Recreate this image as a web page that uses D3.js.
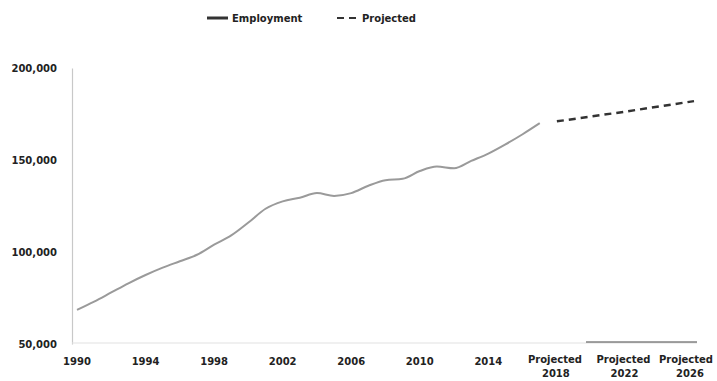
<!DOCTYPE html>
<html>
<head>
<meta charset="utf-8">
<script src="https://cdn.jsdelivr.net/npm/d3@7"></script>
<style>
  body { margin: 0; background: #fff; }
  svg text { font-family: "DejaVu Sans", sans-serif; font-weight: bold; font-size: 10px; fill: #222; }
</style>
</head>
<body>
<div id="chart"></div>
<script>
// employment, annual
const years = [1990, 1991, 1992, 1993, 1994, 1995, 1996, 1997, 1998, 1999,
               2000, 2001, 2002, 2003, 2004, 2005, 2006, 2007, 2008, 2009,
               2010, 2011, 2012, 2013, 2014, 2015, 2016, 2017];
const employment = [68500, 73000, 78000, 83000, 87500, 91500, 95000, 98500, 104000, 109000,
                    116000, 123500, 127500, 129500, 132000, 130500, 132000, 136000, 139000, 139800,
                    144000, 146400, 145500, 149500, 153500, 158500, 164000, 170000];

// projections
const projYears = [2018, 2022, 2026];
const projected = [171000, 176300, 182000];

// axis ticks
const tickYears = [1990, 1994, 1998, 2002, 2006, 2010, 2014, 2018, 2022, 2026];
const tickLabels = ['1990', '1994', '1998', '2002', '2006', '2010', '2014',
                    'Projected 2018', 'Projected 2022', 'Projected 2026'];
const yTicks = [50000, 100000, 150000, 200000];

const W = 717, H = 381;
const svg = d3.select('#chart').append('svg').attr('width', W).attr('height', H);

const x = d3.scaleLinear().domain([1990, 2026]).range([77, 694]);
const y = d3.scaleLinear().domain([50000, 200000]).range([344, 68]);

// y axis
const yAxis = svg.append('g')
    .attr('transform', 'translate(72,0)')
    .call(d3.axisLeft(y).tickValues(yTicks).tickSize(0).tickPadding(15).tickFormat(d3.format(',')));
yAxis.select('.domain').attr('stroke', '#c8c8c8').attr('stroke-width', 1.2);
yAxis.selectAll('text').style('font-size', '10px');

// x baseline
svg.append('line')
    .attr('x1', 72).attr('x2', x(2026) + 3)
    .attr('y1', 343).attr('y2', 343)
    .attr('stroke', '#e2e2e2').attr('stroke-width', 1.2);
svg.append('line')
    .attr('x1', x(2019.7)).attr('x2', x(2026) + 3)
    .attr('y1', 342).attr('y2', 342)
    .attr('stroke', '#444').attr('stroke-width', 1);

// x labels (last one pulled in so it stays inside the frame)
const xl = svg.append('g').selectAll('text')
    .data(tickYears)
    .enter()
    .append('text')
    .attr('text-anchor', 'middle');
xl.each(function(d, i) {
    const parts = tickLabels[i].split(' ');
    const t = d3.select(this);
    const shift = i === tickYears.length - 1 ? -6 : 0;
    if (parts.length === 1) {
        t.append('tspan').attr('x', x(d)).attr('y', 365).text(parts[0]);
    } else {
        t.append('tspan').attr('x', x(d) - 2 + shift).attr('y', 363).text(parts[0]);
        t.append('tspan').attr('x', x(d) - 1 + shift / 2).attr('y', 377).text(parts[1]);
    }
});

// lines
const line = d3.line().x(d => x(d[0])).y(d => y(d[1])).curve(d3.curveMonotoneX);

svg.append('path')
    .datum(years.map((yr, i) => [yr, employment[i]]))
    .attr('d', line)
    .attr('fill', 'none')
    .attr('stroke', '#9a9a9a')
    .attr('stroke-width', 2);

svg.append('path')
    .datum(projYears.map((yr, i) => [yr, projected[i]]))
    .attr('d', d3.line().x(d => x(d[0])).y(d => y(d[1])))
    .attr('fill', 'none')
    .attr('stroke', '#333')
    .attr('stroke-width', 2.5)
    .attr('stroke-dasharray', '7,5');

// legend
const legend = svg.append('g');
legend.append('line')
    .attr('x1', 207).attr('x2', 228).attr('y1', 18).attr('y2', 18)
    .attr('stroke', '#333').attr('stroke-width', 3);
legend.append('text').attr('x', 232).attr('y', 21.5).text('Employment');
legend.append('line')
    .attr('x1', 337).attr('x2', 358).attr('y1', 18).attr('y2', 18)
    .attr('stroke', '#333').attr('stroke-width', 2)
    .attr('stroke-dasharray', '7,5');
legend.append('text').attr('x', 362).attr('y', 21.5).text('Projected');
</script>
</body>
</html>
